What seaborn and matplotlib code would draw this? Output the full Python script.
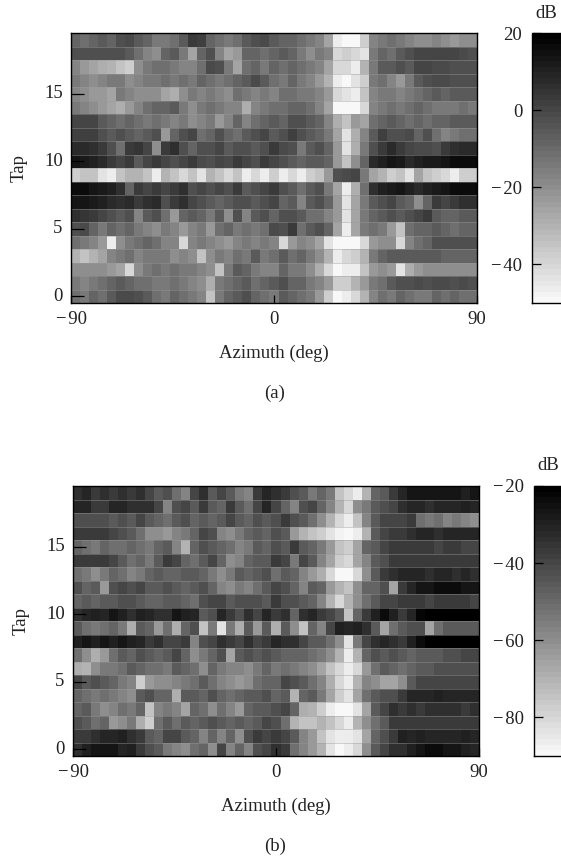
import numpy as np
import pandas as pd
import seaborn as sns
import matplotlib.pyplot as plt
from matplotlib.colors import LinearSegmentedColormap

# rows are tap 19 (top) down to tap 0, columns are 4 deg azimuth bins
taps = list(range(19, -1, -1))
azimuth = list(range(-88, 92, 4))

tap_ticks = [0, 5, 10, 15]
az_ticks = [-90, 0, 90]
cbar_ticks_a = [0, -20, -40]
cbar_ticks_b = [-40, -60, -80]
range_a = (-50, 20)
range_b = (-90, -20)

power_a = [
    [-9,-11,-9,-6,-9, -3,-1,-6,-9,-14, -14,-11,-6,3,2, -9,-11,-14,-11,-6, -3,-1,-6,-9,-9, -11,-14,-17,-26,-46, -50,-50,-37,-17,-14, -11,-14,-17,-20,-20, -17,-20,-23,-20,-20],
    [-3,-3,-3,-3,-3, -3,-6,-11,-17,-20, -9,-6,-14,-26,-9, -3,-17,-26,-23,-9, -9,-11,-9,-6,-9, -14,-20,-14,-17,-40, -37,-40,-43,-14,-9, -11,-6,-3,0,0, 0,0,0,-1,-3],
    [-17,-23,-26,-29,-31, -34,-37,-20,-14,-11, -11,-14,-17,-17,-11, -1,-3,-14,-26,-11, -9,-14,-9,-11,-9, -11,-14,-17,-26,-40, -40,-46,-31,-14,-6, -6,-3,-6,0,0, -1,-1,-3,-3,-3],
    [-14,-17,-20,-17,-14, -14,-20,-17,-14,-14, -11,-14,-11,-14,-9, -11,-14,-11,-9,-6, -1,-6,-11,-14,-9, -14,-17,-23,-31,-46, -50,-43,-37,-14,-11, -17,-23,-14,-6,-3, -1,-1,-3,-3,-3],
    [-17,-20,-23,-23,-26, -14,-17,-20,-20,-20, -26,-29,-20,-14,-17, -14,-17,-20,-11,-14, -17,-14,-17,-11,-11, -14,-14,-17,-23,-40, -43,-46,-34,-17,-14, -14,-17,-14,-11,-9, -6,-9,-6,-6,-6],
    [-14,-17,-20,-23,-26, -29,-23,-17,-11,-9, -9,-6,-14,-20,-14, -11,-14,-17,-17,-29, -17,-14,-11,-11,-9, -9,-11,-17,-26,-50, -50,-50,-40,-17,-14, -11,-14,-11,-9,-11, -14,-14,-14,-11,-14],
    [0,0,0,-6,-9, -11,-9,-11,-14,-11, -14,-17,-14,-20,-17, -14,-23,-17,-9,-17, -11,-9,-6,-9,-3, -3,-6,-9,-17,-29, -34,-23,-26,-11,-9, -6,-9,-11,-9,-11, -9,-9,-6,-6,-6],
    [2,2,2,-3,-6, -3,-6,-9,-6,-3, -23,-9,-3,0,-11, -9,-3,-9,-11,-6, -3,0,-6,-3,2, -3,-6,-9,-14,-26, -43,-29,-17,-6,2, -3,-3,-1,-9,-3, -11,-17,-14,-11,-11],
    [8,8,6,3,-3, -11,3,5,0,-20, 3,6,-3,-9,-3, -3,0,-6,-3,-3, -6,-3,3,-1,-3, -14,-6,-3,-9,-23, -43,-29,-14,-3,3, 8,3,0,-1,-1, -3,3,6,8,8],
    [14,12,10,8,3, 0,3,-6,0,3, 0,-3,0,3,-1, -3,0,-1,3,0, -3,3,0,-3,-6, -9,-6,-6,-9,-23, -34,-20,-9,8,11, 14,12,8,11,12, 12,14,16,17,17],
    [-37,-34,-34,-43,-46, -34,-31,-31,-34,-46, -31,-34,-40,-34,-43, -31,-34,-40,-34,-46, -40,-46,-37,-46,-40, -46,-37,-34,-23,-3, -1,0,-14,-26,-31, -37,-34,-43,-26,-34, -37,-40,-46,-37,-37],
    [17,16,14,12,10, 6,-9,3,0,3, 0,3,6,-3,0, -3,0,-3,3,-6, -3,0,3,-3,-6, -11,-6,-3,-14,-26, -46,-29,-11,6,10, 12,14,10,8,11, 12,14,16,17,17],
    [14,14,12,10,8, 6,8,3,6,8, -3,3,6,0,-3, -6,-9,-6,-3,-3, -6,-3,0,-9,-6, -17,-6,-3,-9,-23, -43,-26,-14,-6,-3, 0,-6,-9,-20,-9, 3,0,3,6,6],
    [6,5,3,0,-3, -6,-3,-17,-6,-3, -11,-23,-9,-6,-9, -14,-6,-20,-3,-17, -6,-3,-9,-3,-3, -6,-11,-11,-17,-23, -43,-26,-14,-9,-6, -3,-6,-3,0,3, -6,-9,-9,-6,-6],
    [-3,-1,-9,-14,-9, -11,-9,-14,-17,-20, -14,-17,-23,-17,-14, -23,-11,-9,-14,-11, -14,-11,-1,-3,3, -11,-6,-3,-9,-26, -46,-26,-14,-11,-14, -23,-34,-11,-9,-9, -6,-9,-11,-9,-9],
    [-11,-14,-17,-23,-46, -20,-14,-11,-9,-11, -17,-17,-40,-17,-14, -17,-20,-23,-17,-14, -17,-14,-17,-40,-23, -17,-20,-26,-43,-50, -50,-50,-40,-23,-20, -20,-40,-17,-11,-9, -3,-3,-3,-3,-3],
    [-31,-34,-31,-26,-17, -14,-11,-17,-14,-14, -14,-20,-17,-20,-34, -20,-14,-17,-11,-14, -6,-14,-11,-6,-11, -9,-14,-20,-31,-46, -40,-37,-31,-14,-9, -6,-6,-6,-6,-6, -6,-9,-9,-9,-9],
    [-20,-20,-20,-20,-23, -26,-40,-20,-14,-11, -14,-11,-14,-14,-17, -20,-34,-14,-6,-9, -14,-17,-17,-9,-14, -14,-20,-29,-40,-50, -46,-46,-34,-23,-20, -23,-43,-29,-23,-20, -20,-20,-20,-20,-20],
    [-14,-17,-14,-11,-9, -6,-9,-11,-11,-14, -14,-11,-14,-17,-20, -29,-14,-11,-9,-6, -11,-9,-6,-3,-9, -9,-14,-17,-23,-37, -37,-31,-23,-14,-11, -6,-3,-3,-1,-3, -1,-1,-3,-1,-3],
    [-11,-14,-9,-11,-6, -1,-1,-3,-6,-11, -14,-9,-11,-14,-17, -34,-14,-9,-6,-3, -9,-11,-14,-6,-9, -11,-14,-23,-37,-50, -46,-40,-31,-17,-11, -14,-9,-11,-14,-14, -9,-11,-9,-11,-11],
]

power_b = [
    [-34,-31,-37,-34,-37, -34,-37,-34,-40,-46, -43,-51,-57,-40,-34, -46,-40,-46,-54,-57, -37,-31,-34,-37,-43, -46,-54,-49,-54,-74, -80,-86,-71,-49,-46, -37,-31,-26,-26,-26, -26,-26,-26,-29,-26],
    [-31,-31,-37,-37,-31, -31,-34,-34,-34,-40, -57,-43,-40,-46,-37, -46,-49,-37,-46,-51, -40,-31,-40,-49,-57, -43,-40,-49,-57,-71, -80,-60,-54,-46,-43, -40,-34,-31,-31,-34, -31,-31,-31,-29,-31],
    [-43,-43,-43,-43,-46, -43,-46,-40,-46,-49, -51,-46,-43,-49,-46, -49,-46,-40,-46,-49, -43,-46,-43,-37,-43, -46,-51,-60,-71,-80, -86,-74,-57,-46,-40, -40,-40,-37,-51,-54, -51,-57,-54,-57,-60],
    [-37,-37,-37,-37,-40, -43,-46,-51,-60,-60, -63,-57,-54,-49,-40, -43,-57,-60,-54,-49, -46,-49,-43,-46,-63, -71,-74,-77,-83,-88, -89,-86,-71,-46,-40, -37,-37,-34,-31,-31, -34,-31,-31,-31,-31],
    [-49,-51,-54,-49,-51, -51,-49,-51,-54,-49, -46,-57,-71,-49,-43, -46,-49,-51,-57,-54, -46,-49,-43,-46,-37, -46,-49,-54,-63,-74, -77,-66,-49,-46,-40, -37,-37,-37,-37,-37, -40,-37,-37,-40,-40],
    [-37,-37,-37,-37,-40, -46,-51,-49,-54,-46, -37,-40,-49,-51,-46, -40,-49,-60,-57,-49, -46,-46,-37,-40,-54, -40,-46,-57,-66,-77, -80,-66,-57,-46,-43, -37,-37,-37,-37,-37, -37,-37,-37,-37,-37],
    [-51,-54,-60,-54,-49, -51,-57,-54,-49,-46, -49,-49,-46,-46,-49, -54,-60,-54,-46,-49, -46,-43,-51,-46,-49, -57,-63,-69,-80,-89, -89,-80,-60,-46,-37, -34,-31,-31,-31,-34, -31,-31,-34,-31,-34],
    [-43,-49,-46,-63,-43, -40,-43,-40,-46,-46, -43,-46,-49,-46,-43, -49,-57,-60,-54,-57, -51,-46,-40,-43,-49, -57,-46,-49,-63,-71, -74,-60,-49,-49,-43, -66,-37,-31,-26,-26, -23,-23,-23,-26,-26],
    [-49,-46,-49,-46,-46, -43,-43,-46,-49,-49, -46,-46,-49,-51,-43, -40,-40,-46,-43,-43, -43,-46,-37,-43,-43, -46,-49,-57,-71,-80, -71,-60,-51,-46,-40, -40,-37,-37,-37,-40, -37,-37,-37,-37,-40],
    [-34,-31,-29,-31,-26, -29,-34,-29,-31,-34, -34,-26,-29,-31,-46, -43,-31,-37,-43,-34, -40,-31,-37,-34,-49, -34,-31,-37,-40,-46, -74,-49,-37,-29,-23, -29,-37,-31,-22,-20, -20,-20,-20,-20,-20],
    [-46,-51,-54,-51,-49, -54,-69,-46,-49,-63, -51,-69,-49,-43,-74, -54,-83,-54,-69,-46, -63,-46,-69,-46,-60, -74,-49,-57,-40,-29, -31,-29,-34,-46,-66, -51,-46,-43,-43,-66, -51,-46,-46,-46,-46],
    [-29,-26,-29,-26,-29, -26,-29,-31,-37,-34, -40,-40,-37,-57,-43, -40,-34,-37,-40,-34, -40,-37,-31,-34,-34, -40,-46,-46,-51,-60, -83,-54,-40,-34,-31, -34,-37,-29,-24,-21, -20,-20,-20,-20,-20],
    [-51,-60,-69,-63,-51, -46,-49,-43,-46,-49, -46,-40,-49,-60,-54, -49,-43,-66,-46,-43, -46,-43,-46,-49,-49, -49,-51,-54,-60,-71, -86,-71,-49,-43,-46, -43,-46,-49,-46,-46, -46,-43,-43,-40,-40],
    [-69,-71,-60,-54,-54, -51,-46,-49,-51,-51, -54,-46,-49,-51,-60, -49,-54,-57,-57,-60, -54,-49,-54,-51,-54, -57,-60,-66,-74,-80, -86,-80,-63,-51,-46, -49,-51,-49,-46,-46, -43,-43,-43,-43,-43],
    [-40,-46,-43,-46,-49, -54,-57,-77,-63,-60, -60,-57,-54,-51,-46, -51,-57,-60,-63,-60, -51,-49,-49,-40,-43, -46,-51,-57,-69,-80, -86,-71,-57,-60,-66, -66,-60,-46,-40,-40, -40,-40,-40,-40,-40],
    [-49,-51,-54,-51,-54, -57,-60,-46,-43,-49, -49,-69,-46,-46,-49, -43,-49,-51,-49,-46, -46,-43,-49,-46,-71, -49,-46,-54,-66,-77, -83,-66,-51,-46,-43, -43,-37,-31,-31,-31, -29,-31,-31,-31,-31],
    [-49,-46,-54,-60,-57, -51,-54,-49,-74,-57, -54,-57,-66,-49,-51, -60,-51,-57,-63,-49, -46,-46,-43,-40,-49, -69,-71,-77,-86,-89, -89,-83,-66,-46,-40, -34,-37,-34,-37,-34, -34,-34,-34,-37,-34],
    [-43,-46,-51,-49,-63, -60,-54,-69,-77,-51, -46,-51,-46,-49,-46, -43,-46,-49,-46,-49, -46,-40,-43,-51,-71, -74,-74,-71,-74,-80, -86,-71,-60,-51,-46, -37,-37,-37,-37,-37, -37,-37,-37,-37,-37],
    [-37,-37,-34,-31,-31, -29,-34,-37,-46,-49, -40,-40,-46,-49,-57, -49,-57,-49,-60,-43, -37,-40,-37,-40,-46, -57,-63,-74,-83,-86, -86,-83,-66,-49,-43, -37,-29,-31,-29,-31, -31,-31,-31,-29,-31],
    [-34,-29,-26,-26,-26, -31,-29,-37,-43,-46, -54,-57,-60,-51,-49, -60,-40,-57,-49,-57, -43,-40,-34,-37,-51, -57,-63,-71,-83,-89, -86,-80,-60,-46,-40, -34,-34,-29,-26,-24, -24,-26,-26,-29,-31],
]

plt.rcParams['font.family'] = ['Liberation Serif', 'DejaVu Serif']
plt.rcParams['font.size'] = 13.5

W, H = 561, 864
gray_map = LinearSegmentedColormap.from_list('db', ['#f8f8f8', '#000000'], N=48)


def signed(v):
    return str(v).replace('-', '\u2212\u200a')


def px_axes(fig, left, top, right, bottom):
    return fig.add_axes([left / W, 1 - bottom / H, (right - left) / W, (bottom - top) / H])


def panel(fig, power, limits, cticks, left, top, name):
    ax = px_axes(fig, left, top, left + 406, top + 270)
    cax = px_axes(fig, left + 461, top, left + 510, top + 270)
    df = pd.DataFrame(power, index=taps, columns=azimuth)
    sns.heatmap(df, ax=ax, cbar_ax=cax, cmap=gray_map, vmin=limits[0], vmax=limits[1],
                cbar_kws={'ticks': [limits[1]] + cticks})

    # faint seams between the rows
    ax.hlines(range(1, len(taps)), 0, len(azimuth), color='#9a9a9a', linewidth=0.5, alpha=0.6)

    # heatmap cells are unit sized, so map the data ticks to cell positions
    ax.set_xticks([(a + 90) / 4 for a in az_ticks])
    ax.set_xticklabels([signed(a) for a in az_ticks], rotation=0)
    ax.set_yticks([19 - t + 0.5 for t in tap_ticks])
    ax.set_yticklabels([str(t) for t in tap_ticks], rotation=0)
    ax.tick_params(axis='x', direction='in', length=5.8, width=0.9, color='black',
                   labelcolor='#222222', pad=6)
    ax.tick_params(axis='y', direction='in', length=9.4, width=0.9, color='black',
                   labelcolor='#222222', pad=6)
    ax.set_xlabel('Azimuth (deg)', labelpad=12, color='#222222')
    ax.set_ylabel('Tap', labelpad=12, color='#222222')
    for s in ax.spines.values():
        s.set_visible(True)
        s.set_linewidth(1.0)

    cax.yaxis.set_ticks_position('left')
    cax.set_yticks([limits[1]] + cticks)
    cax.set_yticklabels([signed(c) for c in [limits[1]] + cticks])
    cax.tick_params(axis='y', direction='in', length=6.5, width=0.9, color='black',
                    labelcolor='#222222', pad=7, labelsize=13.5)
    cbar = ax.collections[0].colorbar
    cbar.outline.set_visible(True)
    cbar.outline.set_linewidth(1.0)
    cbar.outline.set_edgecolor('black')

    fig.text((left + 475) / W, 1 - (top - 20) / H, 'dB', ha='center', va='center', color='#222222')
    fig.text(275 / W, 1 - (top + 360) / H, name, ha='center', va='center', color='#222222')


fig = plt.figure(figsize=(W / 100, H / 100), dpi=100)
panel(fig, power_a, range_a, cbar_ticks_a, 71, 33, '(a)')
panel(fig, power_b, range_b, cbar_ticks_b, 73, 486, '(b)')
fig.savefig('out.png', dpi=100)
